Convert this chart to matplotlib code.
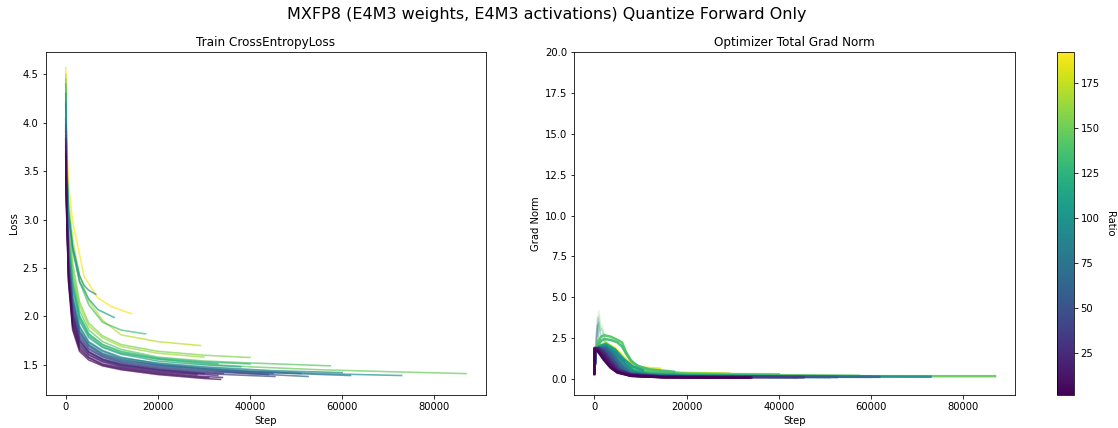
import matplotlib
matplotlib.use("Agg")
import matplotlib.pyplot as plt
import numpy as np

# runs, drawn in this order (high ratio first)
ratios = [190, 172, 165, 155, 148, 142, 135, 128, 122, 115, 108, 100, 95,
          84, 74, 66, 58, 52, 44, 36, 30, 25, 20, 16, 12, 8, 4]

loss_steps = [
    [0, 200, 600, 1500, 4000, 7000, 10000, 14200],
    [0, 200, 600, 1500, 3000, 5000, 8000, 12000, 20000, 29200],
    [0, 200, 600, 1500, 3000, 5000, 8000, 12000, 20000, 30000],
    [0, 200, 600, 1500, 3000, 5000, 8000, 12000, 20000, 30000, 40000],
    [0, 200, 600, 1500, 3000, 5000, 8000, 12000, 20000, 30000, 40000, 55000, 70000, 86900],
    [0, 200, 600, 1500, 3000, 5000, 8000, 12000, 20000, 30000, 40000, 57400],
    [0, 200, 600, 1500, 3000, 5000, 8000, 12000, 17300],
    [0, 200, 600, 1500, 3000, 5000, 8000, 12000, 20000, 30000, 40000],
    [0, 200, 600, 1500, 3000, 5000, 8000, 12000, 20000, 30000, 33000],
    [0, 200, 600, 1500, 3000, 5000, 8000, 12000, 20000, 30000, 38000],
    [0, 200, 600, 1500, 3000, 5000, 7000, 10500],
    [0, 200, 600, 1500, 3000, 5000, 8000, 12000, 20000, 30000, 40000, 55000, 72900],
    [0, 200, 600, 1500, 3000, 4000, 5000, 6500],
    [0, 200, 600, 1500, 3000, 5000, 8000, 12000, 20000, 30000, 45000, 60000],
    [0, 200, 600, 1500, 3000, 5000, 8000, 12000, 20000, 30000, 40000, 50000, 61800],
    [0, 200, 600, 1500, 3000, 5000, 8000, 12000, 20000, 30000, 40000, 51000],
    [0, 200, 600, 1500, 3000, 5000, 8000, 12000, 20000, 30000, 40000, 52600],
    [0, 200, 600, 1500, 3000, 5000, 8000, 12000, 20000, 30000, 45000],
    [0, 200, 600, 1500, 3000, 5000, 8000, 12000, 20000, 30000, 44000],
    [0, 200, 600, 1500, 3000, 5000, 8000, 12000, 20000, 30000, 40000, 45400],
    [0, 200, 600, 1500, 3000, 5000, 8000, 12000, 20000, 30000, 34200],
    [0, 200, 600, 1500, 3000, 5000, 8000, 12000, 20000, 30000],
    [0, 200, 600, 1500, 3000, 5000, 8000, 12000, 20000, 30000, 33000],
    [0, 200, 600, 1500, 3000, 5000, 8000, 12000, 20000, 28500],
    [0, 200, 600, 1500, 3000, 5000, 8000, 12000, 20000, 30000, 34000],
    [0, 200, 600, 1500, 3000, 5000, 8000, 12000, 20000, 30000, 31000],
    [0, 200, 600, 1500, 3000, 5000, 8000, 12000, 20000, 30000, 33600],
]
loss_vals = [
    [4.57, 3.85, 3.35, 2.98, 2.41, 2.19, 2.10, 2.03],
    [4.50, 3.70, 3.20, 2.80, 2.42, 2.16, 1.96, 1.81, 1.74, 1.70],
    [4.39, 3.56, 2.95, 2.49, 2.11, 1.90, 1.78, 1.69, 1.62, 1.58],
    [4.45, 3.60, 3.00, 2.55, 2.15, 1.93, 1.80, 1.71, 1.64, 1.60, 1.576],
    [4.21, 3.44, 2.81, 2.34, 2.00, 1.82, 1.71, 1.63, 1.56, 1.51, 1.48, 1.45, 1.43, 1.41],
    [4.31, 3.50, 2.88, 2.43, 2.06, 1.86, 1.74, 1.66, 1.58, 1.54, 1.52, 1.49],
    [4.40, 3.62, 3.12, 2.72, 2.36, 2.12, 1.94, 1.86, 1.82],
    [4.23, 3.45, 2.82, 2.36, 2.01, 1.82, 1.71, 1.64, 1.57, 1.53, 1.51],
    [4.18, 3.41, 2.78, 2.32, 1.98, 1.80, 1.69, 1.62, 1.56, 1.52, 1.51],
    [4.13, 3.38, 2.74, 2.27, 1.95, 1.78, 1.68, 1.61, 1.54, 1.50, 1.48],
    [4.30, 3.55, 3.08, 2.68, 2.36, 2.18, 2.07, 1.99],
    [4.05, 3.33, 2.68, 2.20, 1.90, 1.74, 1.65, 1.58, 1.51, 1.47, 1.44, 1.41, 1.39],
    [4.20, 3.50, 3.05, 2.72, 2.42, 2.32, 2.27, 2.23],
    [4.03, 3.31, 2.66, 2.19, 1.88, 1.73, 1.64, 1.57, 1.52, 1.48, 1.44, 1.42],
    [3.99, 3.28, 2.62, 2.15, 1.85, 1.71, 1.62, 1.56, 1.50, 1.46, 1.43, 1.41, 1.39],
    [3.97, 3.27, 2.61, 2.14, 1.84, 1.70, 1.61, 1.55, 1.50, 1.46, 1.43, 1.41],
    [3.94, 3.25, 2.58, 2.11, 1.82, 1.69, 1.60, 1.54, 1.49, 1.45, 1.41, 1.38],
    [3.91, 3.23, 2.56, 2.08, 1.80, 1.67, 1.59, 1.53, 1.48, 1.44, 1.41],
    [3.87, 3.20, 2.53, 2.05, 1.78, 1.66, 1.58, 1.52, 1.47, 1.43, 1.40],
    [3.83, 3.17, 2.49, 2.01, 1.75, 1.63, 1.56, 1.50, 1.45, 1.41, 1.39, 1.38],
    [3.84, 3.18, 2.51, 2.03, 1.76, 1.64, 1.56, 1.51, 1.46, 1.42, 1.41],
    [3.81, 3.16, 2.48, 2.00, 1.74, 1.63, 1.55, 1.50, 1.45, 1.41],
    [3.78, 3.14, 2.45, 1.97, 1.72, 1.61, 1.54, 1.49, 1.44, 1.40, 1.39],
    [3.75, 3.12, 2.43, 1.94, 1.70, 1.60, 1.53, 1.48, 1.43, 1.40],
    [3.71, 3.09, 2.40, 1.92, 1.68, 1.58, 1.51, 1.47, 1.42, 1.38, 1.37],
    [3.68, 3.07, 2.38, 1.89, 1.66, 1.57, 1.50, 1.46, 1.41, 1.37, 1.37],
    [3.65, 3.05, 2.35, 1.86, 1.64, 1.55, 1.49, 1.45, 1.40, 1.36, 1.35],
]

grad_steps = [
    [0, 300, 1000, 2500, 4500, 6500, 8500, 11000, 14200],
    [0, 300, 1000, 2500, 4500, 6500, 8500, 12000, 20000, 29200],
    [0, 300, 1000, 2500, 4500, 6500, 8500, 12000, 20000, 30000],
    [0, 300, 1000, 2500, 4500, 6500, 8500, 12000, 20000, 30000, 40000],
    [0, 300, 1000, 2500, 4500, 6500, 8500, 12000, 20000, 40000, 60000, 86900],
    [0, 300, 800, 1500, 2200, 3500, 5000, 6000, 6800, 7800, 9000, 12000, 20000, 35000, 57400],
    [0, 300, 800, 1500, 2200, 3500, 5000, 6000, 7000, 8000, 9500, 12000, 17300],
    [0, 300, 1000, 2500, 4500, 6500, 8500, 12000, 20000, 40000],
    [0, 300, 1000, 2500, 4500, 6500, 8500, 12000, 20000, 33000],
    [0, 300, 1000, 2500, 4500, 6500, 8500, 12000, 20000, 38000],
    [0, 300, 1000, 2500, 4500, 6500, 8500, 10500],
    [0, 300, 1000, 2500, 4500, 6500, 8500, 12000, 20000, 40000, 72900],
    [0, 300, 1000, 2500, 4000, 5500, 6500],
    [0, 300, 1000, 2500, 4000, 6000, 8000, 12000, 20000, 40000, 60000],
    [0, 300, 1000, 2500, 4000, 6000, 8000, 12000, 20000, 40000, 61800],
    [0, 300, 1000, 2500, 4000, 5500, 7500, 11000, 20000, 35000, 51000],
    [0, 300, 1000, 2500, 4000, 5500, 7500, 11000, 20000, 35000, 52600],
    [0, 300, 1000, 2500, 4000, 5500, 7500, 11000, 20000, 35000, 45000],
    [0, 300, 1000, 2500, 4000, 5500, 7500, 11000, 20000, 35000, 44000],
    [0, 300, 1000, 2500, 4000, 5500, 7500, 11000, 20000, 35000, 45400],
    [0, 100, 800, 2000, 3500, 5000, 8000, 15000, 25000, 34200],
    [0, 100, 800, 2000, 3500, 5000, 8000, 15000, 25000, 30000],
    [0, 100, 800, 2000, 3500, 5000, 8000, 15000, 25000, 33000],
    [0, 100, 800, 2000, 3500, 5000, 8000, 15000, 25000, 28500],
    [0, 100, 800, 2000, 3500, 5000, 8000, 15000, 25000, 34000],
    [0, 100, 800, 2000, 3500, 5000, 8000, 15000, 25000, 31000],
    [0, 100, 800, 2000, 3500, 5000, 8000, 15000, 25000, 33600],
]
grad_vals = [
    [0.6, 1.6, 2.0, 2.2, 1.9, 1.3, 0.78, 0.70, 0.64],
    [0.6, 1.7, 2.0, 2.2, 1.8, 1.1, 0.60, 0.45, 0.38, 0.34],
    [0.6, 1.7, 2.0, 2.15, 1.75, 1.05, 0.55, 0.40, 0.30, 0.26],
    [0.6, 1.7, 2.0, 2.2, 1.8, 1.1, 0.60, 0.42, 0.34, 0.31, 0.30],
    [0.6, 1.7, 2.0, 2.1, 1.7, 1.0, 0.50, 0.32, 0.24, 0.20, 0.18, 0.18],
    [0.6, 1.6, 2.3, 2.6, 2.68, 2.6, 2.4, 2.25, 1.7, 1.2, 0.85, 0.50, 0.33, 0.25, 0.20],
    [0.6, 1.5, 2.1, 2.35, 2.45, 2.4, 2.25, 2.0, 1.5, 1.1, 0.80, 0.60, 0.45],
    [0.6, 1.7, 2.0, 2.15, 1.8, 1.1, 0.55, 0.36, 0.26, 0.20],
    [0.55, 1.7, 2.0, 2.1, 1.75, 1.05, 0.50, 0.33, 0.24, 0.19],
    [0.55, 1.7, 1.95, 2.05, 1.7, 1.0, 0.48, 0.30, 0.22, 0.18],
    [0.5, 1.7, 2.0, 2.1, 1.8, 1.2, 0.75, 0.55],
    [0.5, 1.7, 1.95, 2.0, 1.65, 0.95, 0.45, 0.28, 0.20, 0.17, 0.15],
    [0.5, 1.6, 1.9, 2.0, 1.7, 1.3, 1.1],
    [0.5, 1.7, 1.9, 1.95, 1.6, 0.9, 0.40, 0.25, 0.18, 0.15, 0.14],
    [0.5, 1.7, 1.9, 1.9, 1.5, 0.8, 0.36, 0.23, 0.17, 0.15, 0.14],
    [0.5, 1.75, 1.9, 1.85, 1.4, 0.8, 0.35, 0.20, 0.16, 0.14, 0.13],
    [0.5, 1.75, 1.9, 1.8, 1.3, 0.7, 0.30, 0.19, 0.15, 0.14, 0.13],
    [0.45, 1.8, 1.9, 1.7, 1.2, 0.6, 0.28, 0.18, 0.15, 0.13, 0.13],
    [0.45, 1.8, 1.9, 1.6, 1.1, 0.55, 0.25, 0.17, 0.14, 0.13, 0.12],
    [0.45, 1.8, 1.9, 1.5, 1.0, 0.5, 0.23, 0.16, 0.14, 0.13, 0.12],
    [0.4, 1.9, 1.9, 1.7, 1.1, 0.60, 0.30, 0.16, 0.13, 0.12],
    [0.4, 1.9, 1.85, 1.6, 1.0, 0.55, 0.28, 0.15, 0.12, 0.12],
    [0.4, 1.9, 1.85, 1.5, 0.95, 0.50, 0.26, 0.14, 0.12, 0.11],
    [0.4, 1.9, 1.8, 1.45, 0.9, 0.48, 0.24, 0.13, 0.12, 0.11],
    [0.35, 1.9, 1.75, 1.35, 0.8, 0.45, 0.22, 0.12, 0.11, 0.10],
    [0.35, 1.85, 1.7, 1.25, 0.75, 0.42, 0.20, 0.12, 0.11, 0.10],
    [0.3, 1.8, 1.7, 1.2, 0.7, 0.40, 0.20, 0.11, 0.10, 0.10],
]

# faint early spikes in grad norm
spike_ratio = [155, 148, 128, 115, 100, 66, 44]
spike_steps = [
    [200, 600, 1000, 1300, 1700, 2400],
    [300, 700, 1100, 1400, 1900, 2600],
    [200, 500, 900, 1200, 1600, 2300],
    [300, 800, 1000, 1500, 2000, 2700],
    [200, 600, 900, 1300, 1800, 2500],
    [100, 400, 700, 1000, 1500, 2200],
    [100, 300, 600, 900, 1400, 2000],
]
spike_vals = [
    [1.2, 3.4, 4.2, 3.0, 3.3, 2.3],
    [1.0, 3.0, 3.9, 3.2, 2.9, 2.2],
    [1.1, 2.8, 3.7, 2.9, 3.1, 2.1],
    [1.0, 3.3, 3.5, 2.6, 2.8, 2.0],
    [0.9, 2.6, 3.4, 2.7, 2.5, 2.0],
    [0.8, 2.4, 3.8, 2.6, 2.3, 1.9],
    [0.8, 2.2, 3.3, 2.4, 2.1, 1.8],
]

cmap = plt.get_cmap('viridis')
norm = matplotlib.colors.Normalize(vmin=2, vmax=192)

fig = plt.figure(figsize=(1118 / 72, 428 / 72), dpi=72)
ax1 = fig.add_axes([0.0409, 0.0771, 0.3939, 0.8014])
ax2 = fig.add_axes([0.5137, 0.0771, 0.3942, 0.8014])
cax = fig.add_axes([0.9452, 0.0771, 0.0150, 0.8014])

for r, xs, ys in zip(ratios, loss_steps, loss_vals):
    ax1.plot(xs, ys, color=cmap(norm(r)), lw=1.6, alpha=0.7)

for r, xs, ys in zip(spike_ratio, spike_steps, spike_vals):
    ax2.plot(xs, ys, color=cmap(norm(r)), lw=1.5, alpha=0.2)
for r, xs, ys in zip(ratios, grad_steps, grad_vals):
    ax2.plot(xs, ys, color=cmap(norm(r)), lw=2.5, alpha=0.95)

ax1.set_title('Train CrossEntropyLoss', fontsize=12)
ax1.set_xlabel('Step')
ax1.set_ylabel('Loss')
ax1.set_xticks([0, 20000, 40000, 60000, 80000])

ax2.set_title('Optimizer Total Grad Norm', fontsize=12)
ax2.set_xlabel('Step')
ax2.set_ylabel('Grad Norm')
ax2.set_ylim(-0.97, 20)
ax2.set_xlim(ax1.get_xlim())
ax2.set_xticks([0, 20000, 40000, 60000, 80000])

sm = matplotlib.cm.ScalarMappable(cmap=cmap, norm=norm)
cb = fig.colorbar(sm, cax=cax)
cb.set_label('Ratio', rotation=270, labelpad=15)

fig.text(0.489, 0.965, 'MXFP8 (E4M3 weights, E4M3 activations) Quantize Forward Only',
         fontsize=16, ha='center', va='center')

plt.savefig('out.png', dpi=72)
